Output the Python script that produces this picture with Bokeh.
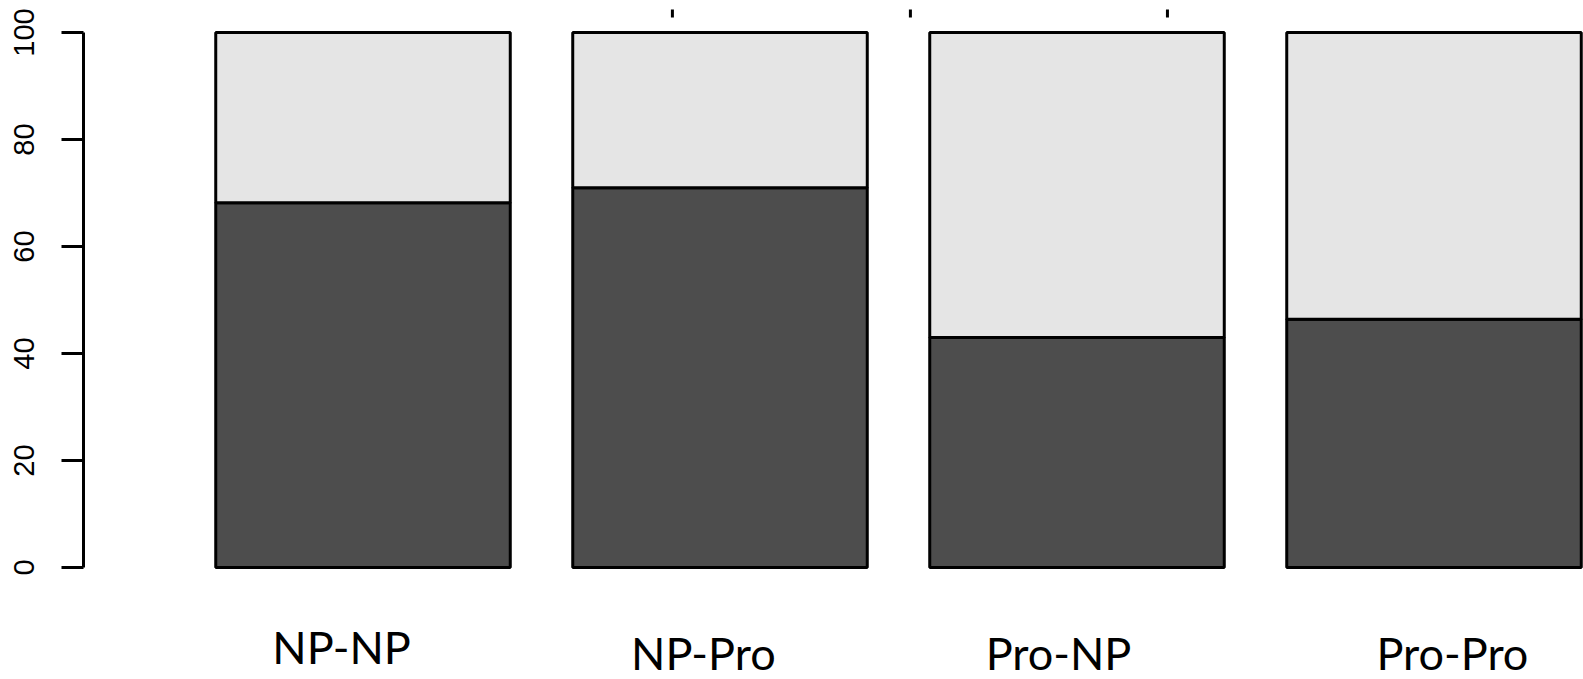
from bokeh.plotting import figure
from bokeh.models import ColumnDataSource, Range1d, LinearAxis, FixedTicker
from bokeh.core.properties import value
from bokeh.embed import file_html
from bokeh.resources import INLINE

# ---- data ----
categories = ["NP-NP", "NP-Pro", "Pro-NP", "Pro-Pro"]
lower_pct = [68.2, 71.0, 43.0, 46.4]          # dark segment
upper_pct = [100 - v for v in lower_pct]      # light segment (rest to 100)
y_ticks = [0, 20, 40, 60, 80, 100]

# ---- layout (positions / styles) ----
bar_space = 0.2
bar_width = 0.99
label_dx = [-0.072, -0.056, -0.062, 0.062]
label_y = [-14.8, -15.9, -15.9, -15.9]
stray_tick_x = [1.740, 2.540, 3.404]   # tick marks of a chart above, cut off

centers = [bar_space + 0.5 + i * (1 + bar_space) for i in range(len(categories))]
src = ColumnDataSource(dict(
    x=centers,
    cat=categories,
    low=lower_pct,
    top=[l + u for l, u in zip(lower_pct, upper_pct)],
    lx=[c + d for c, d in zip(centers, label_dx)],
    ly=label_y,
))

W, H = 1583, 679
p = figure(width=W, height=H, output_backend="svg", toolbar_location=None,
           x_axis_type=None, y_axis_type=None,
           x_range=Range1d(-0.2395, 4.8025), y_range=Range1d(-20.935, 105.981),
           min_border_left=83, min_border_right=0, min_border_top=0, min_border_bottom=0)
p.outline_line_color = None
p.grid.visible = False
p.background_fill_color = "white"

p.vbar(x="x", width=bar_width, bottom=0, top="low", source=src,
       fill_color="#4D4D4D", line_color="black", line_width=3)
p.vbar(x="x", width=bar_width, bottom="low", top="top", source=src,
       fill_color="#E5E5E5", line_color="black", line_width=3)

p.text(x="lx", y="ly", text="cat", source=src, text_align="center",
       text_baseline="alphabetic", text_font=value("Lato"),
       text_font_size="45px", text_color="black")

p.segment(x0=stray_tick_x, x1=stray_tick_x, y0=[102.8] * 3, y1=[104.3] * 3,
          line_color="black", line_width=3)

ax = LinearAxis(bounds=(0, 100), ticker=FixedTicker(ticks=y_ticks))
ax.axis_line_width = 3
ax.axis_line_color = "black"
ax.major_tick_line_width = 3
ax.major_tick_line_color = "black"
ax.major_tick_in = 0
ax.major_tick_out = 22
ax.minor_tick_line_color = None
ax.major_label_orientation = "parallel"
ax.major_label_text_font = "Liberation Sans"
ax.major_label_text_font_size = "29px"
ax.major_label_text_color = "black"
ax.major_label_standoff = 27
p.add_layout(ax, "left")

open("out.html", "w").write(file_html(p, INLINE))
